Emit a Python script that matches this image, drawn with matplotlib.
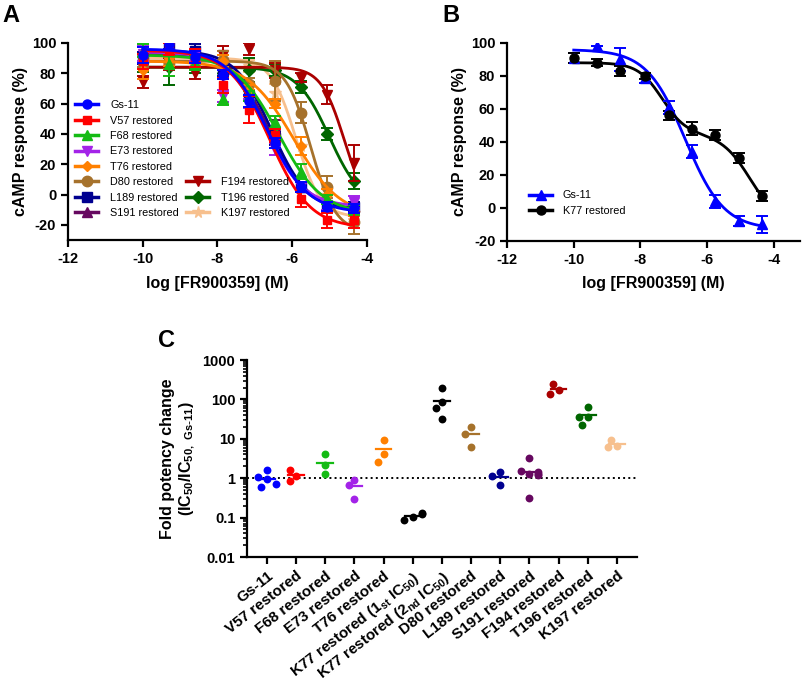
import numpy as np
import matplotlib
matplotlib.use("Agg")
from matplotlib import pyplot as plt
from matplotlib.lines import Line2D
from matplotlib.ticker import LogLocator, NullFormatter, FixedLocator

plt.rcParams['font.family'] = ['Liberation Sans', 'DejaVu Sans']
plt.rcParams['mathtext.default'] = 'regular'
plt.rcParams['axes.unicode_minus'] = False

# doses, log [FR900359] (M)
log_dose = [-10.0, -9.3, -8.6, -7.85, -7.15, -6.45, -5.75, -5.05, -4.35]

# panel A: mean responses and error bars
gs11_resp = [92, 99, 91, 79, 62, 34, 5, -8, -9]
gs11_err = [5, 3, 4, 3, 4, 3, 3, 3, 3]
v57_resp = [88, 96, 90, 72, 56, 39, -3, -17, -17]
v57_err = [5, 4, 6, 5, 9, 4, 5, 5, 5]
f68_resp = [95, 86, 87, 63, 65, 48, 15, -3, -10]
f68_err = [4, 8, 5, 4, 3, 4, 5, 3, 3]
e73_resp = [93, 97, 92, 65, 60, 30, 5, -7, -5]
e73_err = [5, 3, 4, 4, 3, 4, 3, 3, 4]
t76_resp = [82, 90, 88, 88, 69, 60, 32, 0, -10]
t76_err = [6, 5, 4, 4, 3, 3, 6, 4, 4]
d80_resp = [88, 87, 88, 89, 73, 75, 54, 5, -18]
d80_err = [4, 4, 4, 6, 4, 13, 7, 7, 8]
l189_resp = [90, 98, 95, 82, 65, 37, 5, -8, -8]
l189_err = [4, 3, 4, 4, 3, 4, 3, 3, 3]
s191_resp = [90, 97, 92, 80, 66, 45, 5, -8, -8]
s191_err = [4, 3, 4, 4, 3, 4, 3, 3, 3]
f194_resp = [74, 86, 80, 92, 96, 82, 77, 66, 21]
f194_err = [4, 4, 4, 6, 4, 5, 3, 6, 12]
t196_resp = [84, 84, 84, 80, 82, 82, 71, 40, 9]
t196_err = [3, 12, 4, 3, 8, 4, 4, 4, 5]
k197_resp = [90, 90, 88, 88, 85, 67, 32, 0, -12]
k197_err = [4, 4, 4, 4, 4, 6, 6, 4, 4]

names_a = ['Gs-11', 'V57 restored', 'F68 restored', 'E73 restored', 'T76 restored',
           'D80 restored', 'L189 restored', 'S191 restored', 'F194 restored',
           'T196 restored', 'K197 restored']
resp_a = [gs11_resp, v57_resp, f68_resp, e73_resp, t76_resp, d80_resp,
          l189_resp, s191_resp, f194_resp, t196_resp, k197_resp]
err_a = [gs11_err, v57_err, f68_err, e73_err, t76_err, d80_err,
         l189_err, s191_err, f194_err, t196_err, k197_err]

# fitted sigmoid parameters (top, bottom, logIC50, hill)
fit_top = [96, 95, 92, 94, 88, 88, 95, 93, 84, 84, 90]
fit_bottom = [-12, -22, -13, -8, -15, -25, -10, -10, -12, -8, -15]
fit_logic50 = [-6.65, -6.6, -6.35, -6.7, -5.95, -5.5, -6.55, -6.6, -4.6, -5.0, -5.9]
fit_hill = [0.8, 0.8, 0.75, 0.85, 0.7, 1.3, 0.9, 0.9, 1.4, 1.0, 1.3]

# panel B
gs11_b_resp = [91, 98, 90, 79, 61, 34, 4, -8, -10]
gs11_b_err = [3, 0, 7, 3, 4, 4, 4, 3, 5]
k77_b_resp = [91, 88, 83, 80, 56, 48, 44, 30, 7]
k77_b_err = [3, 2, 3, 2, 3, 4, 3, 3, 3]
gs11_b_fit = [96, -13, -6.65, 0.75]
# biphasic fit: top, bottom, fraction 1st site, logIC50 1, logIC50 2, hill 1
k77_b_fit = [88, -10, 0.44, -7.35, -4.7, 1.2]

# panel C: fold potency change
cats_c = ['Gs-11', 'V57 restored', 'F68 restored', 'E73 restored', 'T76 restored',
          'K77 restored (1$_{st}$ IC$_{50}$)', 'K77 restored (2$_{nd}$ IC$_{50}$)',
          'D80 restored', 'L189 restored', 'S191 restored', 'F194 restored',
          'T196 restored', 'K197 restored']
fold_gs11 = [0.93, 1.07, 0.60, 1.57, 0.72]
fold_v57 = [1.17, 1.57, 0.84]
fold_f68 = [4.0, 2.14, 1.29]
fold_e73 = [0.30, 0.92, 0.69]
fold_t76 = [9.6, 4.0, 2.6]
fold_k77_1 = [0.104, 0.087, 0.13, 0.121]
fold_k77_2 = [195, 87, 59, 31]
fold_d80 = [6.2, 20, 13.4]
fold_l189 = [0.66, 1.45, 1.12]
fold_s191 = [3.2, 0.32, 1.3, 1.5, 1.24, 1.4, 1.25]
fold_f194 = [171, 251, 134]
fold_t196 = [64, 35.6, 23, 35.6]
fold_k197 = [6.5, 9.6, 6.2]
fold_c = [fold_gs11, fold_v57, fold_f68, fold_e73, fold_t76, fold_k77_1, fold_k77_2,
          fold_d80, fold_l189, fold_s191, fold_f194, fold_t196, fold_k197]

colors_a = ['#0000ff', '#ff0000', '#14bb14', '#a323e8', '#ff8000', '#a6722c',
            '#000090', '#660860', '#aa0000', '#006600', '#f7c08e']
markers_a = ['o', 's', '^', 'v', 'D', 'o', 's', '^', 'v', 'D', '*']
msize_a = [6.5, 6, 6.5, 6.5, 5, 7.5, 6.5, 6.5, 7.5, 6, 8.5]
colors_c = ['#0000ff', '#ff0000', '#14bb14', '#a323e8', '#ff8000', 'black', 'black',
            '#a6722c', '#000090', '#660860', '#aa0000', '#006600', '#f7c08e']


def sigmoid(x, top, bottom, logic50, hill):
    return bottom + (top - bottom) / (1 + 10 ** ((x - logic50) * hill))


def style_axes(ax):
    for s in ['top', 'right']:
        ax.spines[s].set_visible(False)
    for s in ['left', 'bottom']:
        ax.spines[s].set_linewidth(1.6)
    ax.tick_params(width=1.6, length=5, labelsize=10.5)
    for lab in ax.get_xticklabels() + ax.get_yticklabels():
        lab.set_fontweight('bold')


fig = plt.figure(figsize=(8.05, 6.88), dpi=100)

# ---- panel A
ax = fig.add_axes([0.0845, 0.651, 0.371, 0.2866])
xs = np.linspace(min(log_dose), max(log_dose), 300)
for i in reversed(range(len(names_a))):
    c = colors_a[i]
    ax.plot(xs, sigmoid(xs, fit_top[i], fit_bottom[i], fit_logic50[i], fit_hill[i]),
            color=c, lw=2)
    ax.errorbar(log_dose, resp_a[i], yerr=err_a[i], fmt='none', ecolor=c,
                elinewidth=1.4, capsize=4, capthick=1.4)
    ax.plot(log_dose, resp_a[i], linestyle='none', marker=markers_a[i],
            ms=msize_a[i], color=c)
ax.set_xlim(-12, -4)
ax.set_ylim(-30, 100)
ax.set_xticks([-12, -10, -8, -6, -4])
ax.set_yticks([-20, 0, 20, 40, 60, 80, 100])
ax.set_xlabel('log [FR900359] (M)', fontsize=11.5, fontweight='bold', labelpad=7)
ax.set_ylabel('cAMP response (%)', fontsize=11.5, fontweight='bold', labelpad=3)
style_axes(ax)

handles = [Line2D([], [], color=colors_a[i], marker=markers_a[i], ms=msize_a[i], lw=2.5)
           for i in range(len(names_a))]
labels = list(names_a)
blank = Line2D([], [], color='none')
handles = handles[:8] + [blank] * 5 + handles[8:]
labels = labels[:8] + [''] * 5 + labels[8:]
ax.legend(handles, labels, loc='upper left', bbox_to_anchor=(0.025, 0.71),
          ncol=2, frameon=False, fontsize=7.8, handlelength=2.1, handletextpad=1.1,
          columnspacing=0.7, labelspacing=0.5, borderpad=0, borderaxespad=0)

# ---- panel B
ax = fig.add_axes([0.630, 0.650, 0.364, 0.2876])
ax.plot(xs, sigmoid(xs, *gs11_b_fit), color='#0000ff', lw=2)
top, bot, frac, ic1, ic2, h1 = k77_b_fit
k77_curve = bot + (top - bot) * (frac / (1 + 10 ** ((xs - ic1) * h1)) +
                                 (1 - frac) / (1 + 10 ** (xs - ic2)))
ax.plot(xs, k77_curve, color='black', lw=2)
ax.errorbar(log_dose, gs11_b_resp, yerr=gs11_b_err, fmt='none', ecolor='#0000ff',
            elinewidth=1.4, capsize=4, capthick=1.4)
ax.errorbar(log_dose, k77_b_resp, yerr=k77_b_err, fmt='none', ecolor='black',
            elinewidth=1.4, capsize=4, capthick=1.4)
ax.plot(log_dose, gs11_b_resp, linestyle='none', marker='^', ms=6.5, color='#0000ff')
ax.plot(log_dose, k77_b_resp, linestyle='none', marker='o', ms=6.5, color='black')
ax.set_xlim(-12, -3.2)
ax.set_ylim(-20, 100)
ax.set_xticks([-12, -10, -8, -6, -4])
ax.set_yticks([-20, 0, 20, 40, 60, 80, 100])
ax.set_xlabel('log [FR900359] (M)', fontsize=11.5, fontweight='bold', labelpad=7)
ax.set_ylabel('cAMP response (%)', fontsize=11.5, fontweight='bold', labelpad=3)
style_axes(ax)
hb = [Line2D([], [], color='#0000ff', marker='^', ms=6.5, lw=2.5),
      Line2D([], [], color='black', marker='o', ms=6.5, lw=2.5)]
ax.legend(hb, ['Gs-11', 'K77 restored'], loc='upper left', bbox_to_anchor=(0.075, 0.255),
          frameon=False, fontsize=7.8, handlelength=2.1, handletextpad=1.0,
          labelspacing=0.5, borderpad=0, borderaxespad=0)

# ---- panel C
ax = fig.add_axes([0.307, 0.1904, 0.484, 0.2863])
ax.set_yscale('log')
ax.set_xlim(-0.68, 12.68)
ax.set_ylim(0.01, 1000)
ax.axhline(1, color='black', ls=':', lw=1.4, zorder=1)
px_x, px_dec, mdiam = 29.2, 39.3, 7.6
cand = [0, -0.2, 0.2, -0.1, 0.1, -0.3, 0.3]
for i, vals in enumerate(fold_c):
    placed = []
    for v in vals:
        ly = np.log10(v)
        for off in cand:
            ok = all(np.hypot((off - o) * px_x, (ly - q) * px_dec) >= mdiam for o, q in placed)
            if ok:
                break
        placed.append((off, ly))
    xo = [i + o for o, q in placed]
    ax.scatter(xo, vals, s=32, color=colors_c[i], zorder=3, linewidths=0)
    m = np.mean(vals)
    ax.plot([i - 0.27, i + 0.27], [m, m], color=colors_c[i], lw=1.6, zorder=4)
ax.set_xticks(range(len(cats_c)))
ax.set_xticklabels(cats_c, rotation=38, ha='right', rotation_mode='anchor')
ax.yaxis.set_major_locator(FixedLocator([0.01, 0.1, 1, 10, 100, 1000]))
ax.set_yticklabels(['0.01', '0.1', '1', '10', '100', '1000'])
ax.yaxis.set_minor_locator(LogLocator(base=10, subs=np.arange(2, 10), numticks=20))
ax.yaxis.set_minor_formatter(NullFormatter())
ax.set_ylabel('Fold potency change\n(IC$_{50}$/IC$_{50,\\ Gs\\text{-}11}$)',
              fontsize=11.5, fontweight='bold', labelpad=4)
style_axes(ax)
ax.tick_params(axis='y', which='minor', length=3, width=1.2)
ax.tick_params(axis='x', labelsize=11)

fig.text(0.003, 0.994, 'A', fontsize=17, fontweight='bold', va='top', ha='left')
fig.text(0.549, 0.994, 'B', fontsize=17, fontweight='bold', va='top', ha='left')
fig.text(0.196, 0.522, 'C', fontsize=17, fontweight='bold', va='top', ha='left')

fig.savefig('out.png', dpi=100)
